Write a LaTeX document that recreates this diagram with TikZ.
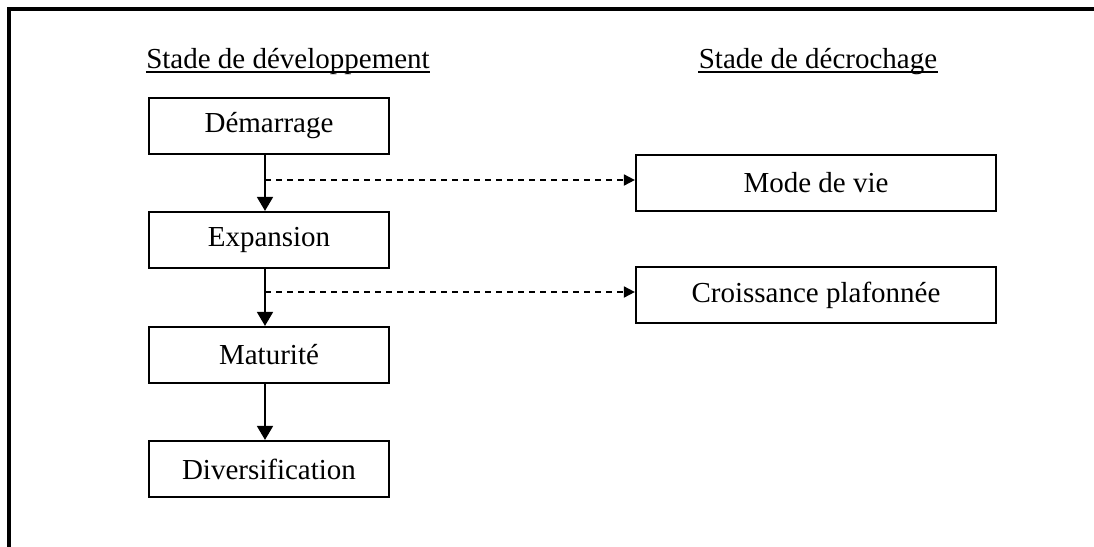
\documentclass[tikz,border=0pt]{standalone}
\usepackage{fontspec}
\setmainfont{Liberation Serif}
\usetikzlibrary{arrows.meta}

\tikzset{
	stage/.style={draw, line width=1.1pt, minimum width=120pt, minimum height=28pt, inner sep=0pt},
	exitbox/.style={stage, minimum width=180pt},
	title/.style={inner sep=0pt, anchor=base},
	flow/.style={line width=0.9pt, -{Triangle[length=7pt,width=8pt]}},
	branch/.style={line width=0.9pt, dash pattern=on 3pt off 2.5pt, -{Triangle[length=5.5pt,width=5.5pt]}}
}

\begin{document}
\begin{tikzpicture}[x=0.5pt,y=-0.5pt,font=\fontsize{14.5}{17}\selectfont]
	\useasboundingbox (0,0) rectangle (1094,547);
	% cadre
	\draw[line width=1.6pt] (9,547) -- (9,9) -- (1094,9);
	% titres
	\node[title] (t1) at (288,68) {Stade de développement};
	\node[title] (t2) at (818,68) {Stade de décrochage};
	\draw[line width=1pt] ([yshift=-2pt]t1.base west) -- ([yshift=-2pt]t1.base east);
	\draw[line width=1pt] ([yshift=-2pt]t2.base west) -- ([yshift=-2pt]t2.base east);
	% stades
	\node[stage] (dem) at (269,126) {Démarrage};
	\node[stage] (exp) at (269,240) {Expansion};
	\node[stage] (mat) at (269,355) {Maturité};
	\node[stage] (div) at (269,469) {Diversification};
	\node[exitbox] (mode) at (816,183) {Mode de vie};
	\node[exitbox] (crois) at (816,295) {Croissance plafonnée};
	% fleches
	\coordinate (b1) at (265,180);
	\coordinate (b2) at (265,292);
	\draw[flow] (dem.south -| b1) -- (exp.north -| b1);
	\draw[flow] (exp.south -| b2) -- (mat.north -| b2);
	\draw[flow] (mat.south -| b2) -- (div.north -| b2);
	\draw[branch] (b1) -- (b1 -| mode.west);
	\draw[branch] (b2) -- (b2 -| crois.west);
\end{tikzpicture}
\end{document}
